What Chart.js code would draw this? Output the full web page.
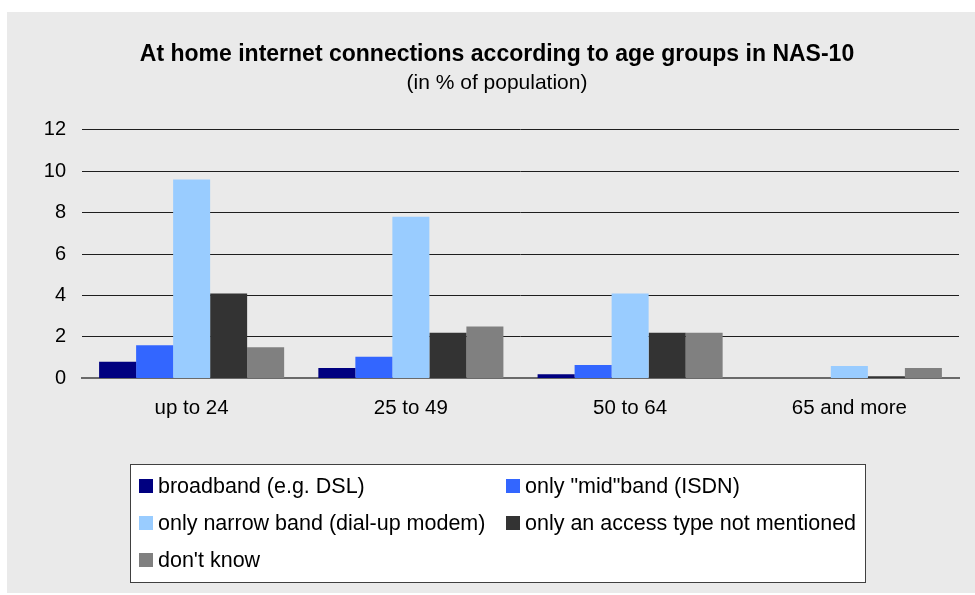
<!DOCTYPE html>
<html>
<head>
<meta charset="utf-8">
<script src="https://cdn.jsdelivr.net/npm/chart.js@4.4.0/dist/chart.umd.min.js"></script>
<style>
  html, body { margin: 0; padding: 0; background: #ffffff; }
  #wrap { width: 975px; height: 595px; position: relative; }
</style>
</head>
<body>
<div id="wrap"><canvas id="c" width="975" height="595"></canvas></div>
<script>
const categories = ["up to 24", "25 to 49", "50 to 64", "65 and more"];
const seriesNames = [
  "broadband (e.g. DSL)",
  "only \"mid\"band (ISDN)",
  "only narrow band (dial-up modem)",
  "only an access type not mentioned",
  "don't know"
];
const broadband = [0.8, 0.5, 0.2, 0];
const midband = [1.6, 1.05, 0.65, 0];
const narrowband = [9.6, 7.8, 4.1, 0.6];
const otherType = [4.1, 2.2, 2.2, 0.1];
const dontKnow = [1.5, 2.5, 2.2, 0.5];
const yTicks = [0, 2, 4, 6, 8, 10, 12];
const titleText = "At home internet connections according to age groups in NAS-10";
const subtitleText = "(in % of population)";

const colors = ["#000080", "#3366FF", "#99CCFF", "#333333", "#808080"];
const values = [broadband, midband, narrowband, otherType, dontKnow];

const FONT = "'Liberation Sans', Arial, sans-serif";

const panelPlugin = {
  id: 'panel',
  beforeDraw(chart) {
    const ctx = chart.ctx;
    ctx.save();
    ctx.fillStyle = '#ffffff';
    ctx.fillRect(0, 0, chart.width, chart.height);
    ctx.fillStyle = '#EAEAEA';
    ctx.fillRect(7, 12, chart.width - 7, chart.height - 14);
    ctx.restore();
  }
};

const legendPlugin = {
  id: 'boxLegend',
  afterDraw(chart) {
    const ctx = chart.ctx;
    const box = { x: 130.5, y: 464.5, w: 735, h: 118 };
    ctx.save();
    ctx.fillStyle = '#ffffff';
    ctx.fillRect(box.x, box.y, box.w, box.h);
    ctx.strokeStyle = '#404040';
    ctx.lineWidth = 1;
    ctx.strokeRect(box.x, box.y, box.w, box.h);
    const colX = [139, 506];
    const rowY = [486, 523, 560];
    ctx.font = "21.5px " + FONT;
    ctx.textBaseline = 'middle';
    ctx.textAlign = 'left';
    chart.data.datasets.forEach((ds, i) => {
      const col = i % 2, row = Math.floor(i / 2);
      const x = colX[col], y = rowY[row];
      ctx.fillStyle = ds.backgroundColor;
      ctx.fillRect(x, y - 7, 14, 14);
      ctx.fillStyle = '#000000';
      ctx.fillText(ds.label, x + 19, y + 1);
    });
    ctx.restore();
  }
};

new Chart(document.getElementById('c'), {
  type: 'bar',
  data: {
    labels: categories,
    datasets: seriesNames.map((name, i) => ({
      label: name,
      data: values[i],
      backgroundColor: colors[i],
      borderWidth: 0,
      categoryPercentage: 0.844,
      barPercentage: 1.0
    }))
  },
  options: {
    responsive: false,
    animation: false,
    devicePixelRatio: 1,
    layout: { padding: { left: 35, right: 16, top: 0, bottom: 156 } },
    plugins: {
      legend: { display: false },
      tooltip: { enabled: false },
      title: {
        display: true,
        text: titleText,
        color: '#000000',
        font: { family: FONT, size: 23, weight: 'bold', lineHeight: 1.2 },
        padding: { top: 41, bottom: 2 }
      },
      subtitle: {
        display: true,
        text: subtitleText,
        color: '#000000',
        font: { family: FONT, size: 21, weight: 'normal', lineHeight: 1.2 },
        padding: { top: 0, bottom: 34 }
      }
    },
    scales: {
      x: {
        z: 1,
        grid: { display: false, drawTicks: false },
        border: { display: true, color: '#6a6a6a', width: 2 },
        ticks: {
          color: '#000000',
          padding: 18,
          font: { family: FONT, size: 20.5 },
          maxRotation: 0
        }
      },
      y: {
        min: 0,
        max: 12,
        afterFit(scale) { scale.width = 47; },
        afterBuildTicks(scale) { scale.ticks = yTicks.map(v => ({ value: v })); },
        grid: { color: '#1e1e1e', lineWidth: 1, drawTicks: false },
        border: { display: false },
        ticks: {
          color: '#000000',
          padding: 16,
          font: { family: FONT, size: 20 }
        }
      }
    }
  },
  plugins: [panelPlugin, legendPlugin]
});
</script>
</body>
</html>
